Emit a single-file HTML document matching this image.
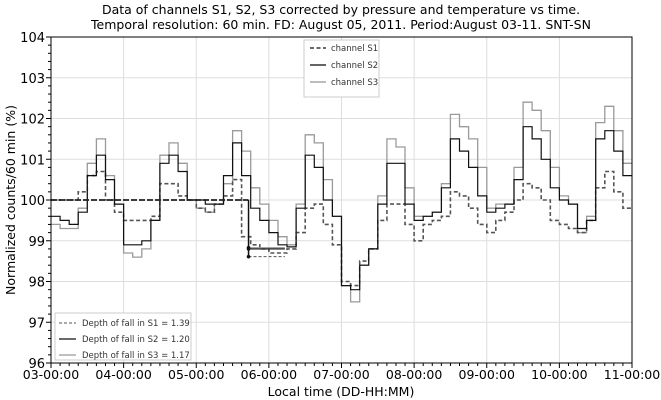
<!DOCTYPE html>
<html><head><meta charset="utf-8"><style>
body{margin:0;background:#fff;}
svg{display:block;font-family:"DejaVu Sans","Liberation Sans",sans-serif;}
</style></head><body>
<svg id="chart" width="661" height="400" viewBox="0 0 661 400">
<text x="341" y="14" text-anchor="middle" font-size="12.5">Data of channels S1, S2, S3 corrected by pressure and temperature vs time.</text>
<text x="341" y="29" text-anchor="middle" font-size="12.5">Temporal resolution: 60 min. FD: August 05, 2011. Period:August 03-11. SNT-SN</text>
<g id="grid"></g>
<g id="series"></g>
<g id="axes"></g>
<text x="341" y="396" text-anchor="middle" font-size="12.5">Local time (DD-HH:MM)</text>
<text transform="translate(15,200) rotate(-90)" text-anchor="middle" font-size="12.5">Normalized counts/60 min (%)</text>
<g>
<rect x="304" y="40" width="75" height="57" fill="#fff" stroke="#ccc"/>
<line x1="310" y1="48" x2="326" y2="48" stroke="#555" stroke-width="1.8" stroke-dasharray="4,2.5"/>
<text x="331" y="51" font-size="8.5" fill="#333">channel S1</text>
<line x1="310" y1="65" x2="326" y2="65" stroke="#111" stroke-width="1.3"/>
<text x="331" y="68" font-size="8.5" fill="#333">channel S2</text>
<line x1="310" y1="82" x2="326" y2="82" stroke="#999" stroke-width="1.3"/>
<text x="331" y="85" font-size="8.5" fill="#333">channel S3</text>
</g>
<g>
<rect x="55" y="313" width="136" height="47" fill="#fff" stroke="#ccc"/>
<line x1="59" y1="323" x2="76" y2="323" stroke="#555" stroke-width="1" stroke-dasharray="3,2"/>
<text x="82" y="326" font-size="8.5" fill="#333">Depth of fall in S1 = 1.39</text>
<line x1="59" y1="339" x2="76" y2="339" stroke="#111" stroke-width="1.2"/>
<text x="82" y="342" font-size="8.5" fill="#333">Depth of fall in S2 = 1.20</text>
<line x1="59" y1="355" x2="76" y2="355" stroke="#999" stroke-width="1.2"/>
<text x="82" y="358" font-size="8.5" fill="#333">Depth of fall in S3 = 1.17</text>
</g>
</svg>
<script>
const dayLabels=["03-00:00","04-00:00","05-00:00","06-00:00","07-00:00","08-00:00","09-00:00","10-00:00","11-00:00"];
const yTicks=[96,97,98,99,100,101,102,103,104];
// values every 3 hours starting 03-00:00
const s1=[100.0,100.0,100.0,100.2,100.6,100.7,100.0,99.7,
99.5,99.5,99.5,99.6,100.4,100.4,100.1,100.0,
99.8,99.7,99.9,100.1,100.5,99.1,98.9,98.8,
98.7,98.7,98.8,99.2,99.8,99.9,99.4,98.9,
98.0,97.9,98.5,98.8,99.5,99.9,99.9,99.4,
99.0,99.4,99.5,99.6,100.2,100.1,99.8,99.4,
99.2,99.5,99.7,100.0,100.4,100.3,100.0,99.5,
99.4,99.3,99.2,99.5,100.3,100.7,100.2,99.8];
const s2=[99.6,99.5,99.4,99.7,100.6,101.1,100.5,99.9,
98.9,98.9,99.0,99.5,100.9,101.1,100.7,100.0,
100.0,99.9,99.9,100.6,101.4,100.6,99.8,99.5,
99.2,98.9,98.85,99.8,101.1,100.8,100.0,99.6,
97.9,97.8,98.4,98.8,99.9,100.9,100.9,99.9,
99.5,99.6,99.7,100.3,101.5,101.2,100.8,100.1,
99.7,99.8,99.9,100.5,101.8,101.5,101.0,100.3,
100.0,99.9,99.3,99.5,101.5,101.7,101.2,100.6];
const s3=[99.4,99.3,99.3,99.8,100.9,101.5,100.6,99.9,
98.7,98.6,98.8,99.5,101.1,101.4,100.9,100.0,
99.8,99.7,99.9,100.4,101.7,101.2,100.3,99.9,
99.5,99.1,98.9,99.9,101.6,101.4,100.5,99.6,
97.9,97.5,98.4,98.8,100.1,101.5,101.3,100.3,
99.6,99.6,99.7,100.4,102.1,101.8,101.5,100.8,
99.8,99.9,99.9,100.8,102.4,102.2,101.7,100.8,
100.1,99.9,99.2,99.6,101.9,102.3,101.7,100.9];
const fallTime=2.72; // days from start
const fallBase=100.0;
const fallLevels=[98.61,98.8,98.83];

const X0=51,X1=632,Y0=363,Y1=37;
const xs=d=>X0+(d/8)*(X1-X0);
const ys=v=>Y0-(v-96)/8*(Y0-Y1);
const NS="http://www.w3.org/2000/svg";
function mk(tag,attrs,parent){const e=document.createElementNS(NS,tag);for(const k in attrs)e.setAttribute(k,attrs[k]);parent.appendChild(e);return e;}
const grid=document.getElementById('grid'),axes=document.getElementById('axes'),ser=document.getElementById('series');
yTicks.forEach((t,i)=>{
  const g=mk('line',{x1:X0,x2:X1,y1:ys(t),y2:ys(t),stroke:'#ddd','stroke-width':1},grid);
  
  
  const tk=mk('line',{x1:X0-5,x2:X0,y1:ys(t),y2:ys(t),stroke:'#000'},axes);
  
  
  const tx=mk('text',{x:X0-6,y:ys(t)+5,'text-anchor':'end','font-size':13},axes);
  tx.textContent=t;
  
  
  if(i<yTicks.length-1)for(let m=1;m<5;m++){const mm=mk('line',{x1:X0-3,x2:X0,y1:ys(t+m*0.2),y2:ys(t+m*0.2),stroke:'#000'},axes);
  
  }
});
dayLabels.forEach((l,i)=>{
  const g=mk('line',{x1:xs(i),x2:xs(i),y1:Y1,y2:Y0,stroke:'#ddd'},grid);
  
  
  const tk=mk('line',{x1:xs(i),x2:xs(i),y1:Y0,y2:Y0+5,stroke:'#000'},axes);
  
  
  const tx=mk('text',{x:xs(i),y:Y0+16,'text-anchor':'middle','font-size':12.5},axes);
  tx.textContent=l;
  
  
  if(i<8)for(let m=1;m<8;m++){const mm=mk('line',{x1:xs(i+m/8),x2:xs(i+m/8),y1:Y0,y2:Y0+3,stroke:'#000'},axes);
  
  }
});
const frame=mk('rect',{x:X0,y:Y1,width:X1-X0,height:Y0-Y1,fill:'none',stroke:'#000','stroke-width':1},axes);


function step(arr){let d='';arr.forEach((v,i)=>{const xa=xs(i/8),xb=xs((i+1)/8);d+=(i?'L':'M')+xa.toFixed(1)+','+ys(v).toFixed(1)+'L'+xb.toFixed(1)+','+ys(v).toFixed(1);});return d;}
const p3=mk('path',{d:step(s3),fill:'none',stroke:'#9a9a9a','stroke-width':1.3},ser);


const p1=mk('path',{d:step(s1),fill:'none',stroke:'#555','stroke-width':1.6,'stroke-dasharray':'4,2.5'},ser);


const p2=mk('path',{d:step(s2),fill:'none',stroke:'#111','stroke-width':1.2},ser);


const fx=xs(fallTime),fend=xs(fallTime+0.5);
const bl=mk('line',{x1:X0,x2:fx,y1:ys(fallBase),y2:ys(fallBase),stroke:'#222','stroke-width':1.8,'stroke-dasharray':'6,2'},ser);


const vl=mk('line',{x1:fx,x2:fx,y1:ys(fallBase),y2:ys(Math.min(...fallLevels)),stroke:'#111','stroke-width':1.5},ser);


const st=[{c:'#555',w:1,da:'3,2'},{c:'#111',w:1.3,da:''},{c:'#999',w:1.2,da:''}];
fallLevels.forEach((v,i)=>{
  const l=mk('line',{x1:fx,x2:fend,y1:ys(v),y2:ys(v),stroke:st[i].c,'stroke-width':st[i].w,'stroke-dasharray':st[i].da},ser);
  
  
  const c=mk('circle',{cx:fx,cy:ys(v),r:1.8,fill:'#111'},ser);
  
  
});
</script>
</body></html>
